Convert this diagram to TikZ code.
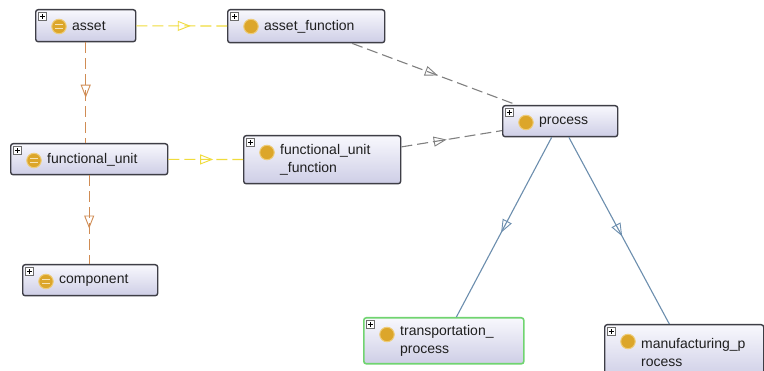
\documentclass[tikz,border=0pt]{standalone}
\usepackage{fontspec}
\setmainfont{Liberation Sans}
\usetikzlibrary{arrows.meta,decorations.markings,calc}

\definecolor{boxtop}{RGB}{248,248,253}
\definecolor{boxbot}{RGB}{206,206,230}
\definecolor{boxline}{RGB}{62,62,70}
\definecolor{gold}{RGB}{220,166,42}
\definecolor{goldedge}{RGB}{238,204,120}
\definecolor{yellowlink}{RGB}{240,220,60}
\definecolor{orangelink}{RGB}{208,140,84}
\definecolor{graylink}{RGB}{128,128,128}
\definecolor{bluelink}{RGB}{108,142,174}
\definecolor{greenline}{RGB}{112,212,112}

\tikzset{
  cbox/.style={draw=boxline, line width=1.4pt, rounded corners=2.5pt,
    top color=boxtop, bottom color=boxbot, anchor=north west, inner sep=0pt},
  ctext/.style={anchor=west, inner sep=0pt, align=left,
    font=\fontsize{14}{18}\selectfont, text=black!88},
  plusbox/.style={draw=gray!85!black, fill=white, line width=0.6pt,
    minimum size=8.5pt, inner sep=0pt},
  classdot/.style={circle, fill=gold, draw=goldedge, line width=1pt,
    minimum size=14.5pt, inner sep=0pt},
  midtri/.style={postaction={decorate}, decoration={markings,
    mark=at position #1 with {\arrow[solid, line width=0.9pt]{Triangle[open, length=13pt, width=10pt]}}}},
  midtri/.default=0.55,
  eqlink/.style={line width=1.1pt, dash pattern=on 11pt off 5pt},
  eqyellow/.style={eqlink, draw=yellowlink},
  eqorange/.style={eqlink, draw=orangelink},
  graylinkstyle/.style={eqlink, draw=graylink},
  subclass/.style={line width=1.1pt, draw=bluelink},
}

% class box: [extra style]{name}{x}{y}{width}{height}{label}
\newcommand{\classbox}[7][]{%
  \node[cbox, minimum width=#5pt, minimum height=#6pt, #1] (#2) at (#3,#4) {};
  \node[plusbox] (#2-plus) at ($(#2.north west)+(7.5,7.5)$) {};
  \draw[line width=0.7pt] ($(#2-plus.center)+(-2.4,0)$) -- ($(#2-plus.center)+(2.4,0)$)
    ($(#2-plus.center)+(0,-2.4)$) -- ($(#2-plus.center)+(0,2.4)$);
  \node[classdot] (#2-dot) at ($(#2.north west)+(24,17.5)$) {};
  \node[ctext] (#2-label) at ($(#2.west)+(37,0.5)$) {#7};
}
% equivalence mark inside the class dot
\newcommand{\eqsign}[1]{%
  \draw[line width=1.3pt, color=goldedge!55!white]
    ($(#1-dot.center)+(-3.6,-1.7)$) -- ($(#1-dot.center)+(3.6,-1.7)$)
    ($(#1-dot.center)+(-3.6,1.7)$) -- ($(#1-dot.center)+(3.6,1.7)$);
}

\begin{document}
\begin{tikzpicture}[x=1pt, y=-1pt]
  \useasboundingbox (0,0) rectangle (764,371);
  \fill[white] (0,0) rectangle (764,371);
  \clip (0,0) rectangle (764,371);

  \classbox{asset}{35}{9}{100}{32}{asset}
  \classbox{assetfn}{227}{9}{157}{33}{asset\_function}
  \classbox{process}{502}{105}{115}{31}{process}
  \classbox{funit}{10}{143}{157}{31}{functional\_unit}
  \classbox{funitfn}{243}{135}{157}{48}{functional\_unit\\\_function}
  \classbox{component}{22}{264}{135}{31}{component}
  \classbox[draw=greenline, line width=1.6pt]{transport}{363}{317}{160}{46}{transportation\_\\process}
  \classbox{manuf}{604}{324}{159}{54}{manufacturing\_p\\rocess}

  \eqsign{asset}
  \eqsign{funit}
  \eqsign{component}

  % links between the classes
  \draw[eqyellow, midtri=0.6] (asset) -- (assetfn);
  \draw[eqyellow, midtri=0.6] (funit) -- (funitfn);
  \draw[eqorange, midtri=0.55] (asset) -- (asset |- funit.north);
  \draw[eqorange, midtri=0.6] (funit) -- (funit |- component.north);
  \draw[graylinkstyle, midtri=0.52] (assetfn) -- (process);
  \draw[graylinkstyle, midtri=0.45] (funitfn) -- (process);
  \draw[subclass, midtri=0.53] (process) -- (transport);
  \draw[subclass, midtri=0.53] (process) -- (manuf);
\end{tikzpicture}
\end{document}
